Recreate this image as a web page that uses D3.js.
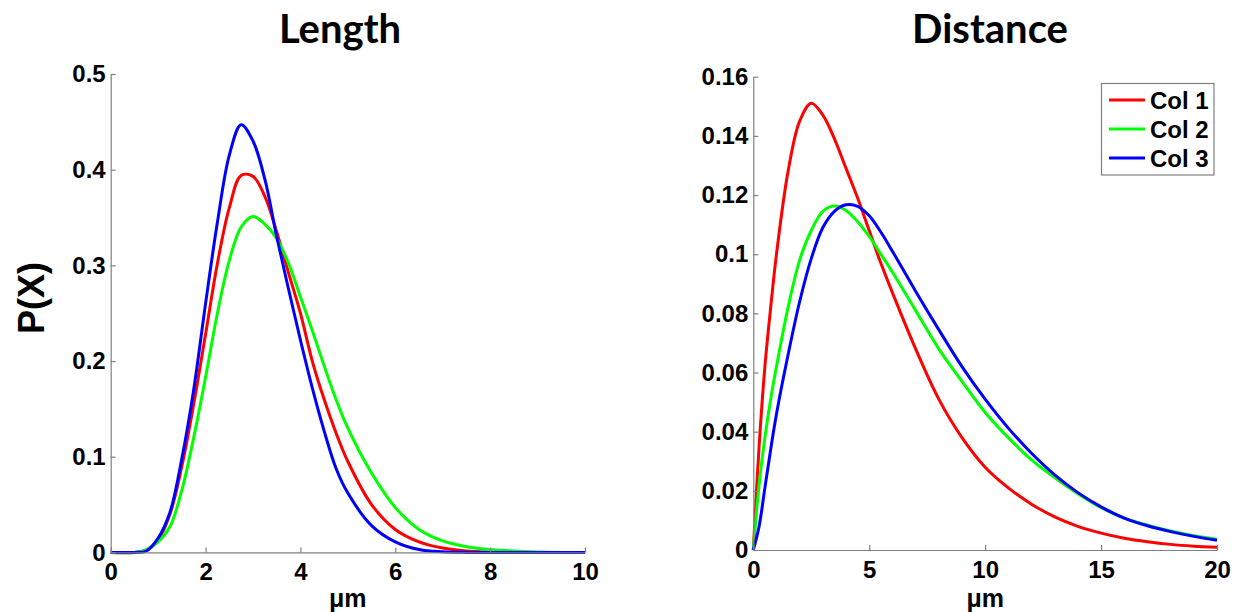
<!DOCTYPE html>
<html>
<head>
<meta charset="utf-8">
<script src="https://cdn.jsdelivr.net/npm/d3@7"></script>
<style>
  body { margin: 0; background: #fff; }
  svg text { font-family: "Liberation Sans", Arial, sans-serif; }
</style>
</head>
<body>
<div id="chart"></div>
<script>
// values
var seriesNames = ["Col 1", "Col 2", "Col 3"];
var seriesColors = ["#ff0000", "#00ff00", "#0000ff"];

// Length panel
var lenX = [0, 0.5, 0.75, 1, 1.25, 1.5, 1.75, 2, 2.25, 2.5, 2.75, 3, 3.25, 3.5, 3.75, 4, 4.25, 4.5, 4.75, 5, 5.5, 6, 6.5, 7, 7.5, 8, 9, 10];
var lenCol1 = [0, 0, 0.002, 0.013, 0.04, 0.09, 0.155, 0.228, 0.302, 0.36, 0.394, 0.393, 0.372, 0.335, 0.292, 0.25, 0.2, 0.16, 0.125, 0.095, 0.05, 0.024, 0.011, 0.0045, 0.0015, 0.0004, 0, 0];
var lenCol2 = [0, 0, 0.003, 0.011, 0.027, 0.065, 0.12, 0.183, 0.25, 0.305, 0.34, 0.351, 0.343, 0.328, 0.302, 0.267, 0.232, 0.195, 0.16, 0.13, 0.083, 0.047, 0.024, 0.012, 0.006, 0.003, 0.0005, 0];
var lenCol3 = [0, 0, 0.0015, 0.015, 0.042, 0.098, 0.17, 0.26, 0.345, 0.415, 0.447, 0.43, 0.39, 0.33, 0.275, 0.222, 0.172, 0.127, 0.088, 0.062, 0.028, 0.011, 0.003, 0.0006, 0, 0, 0, 0];
var lenXTicks = [0, 2, 4, 6, 8, 10];
var lenYTicks = [0, 0.1, 0.2, 0.3, 0.4, 0.5];

// Distance panel
var distX = [0, 0.25, 0.5, 0.75, 1, 1.5, 2, 2.5, 3, 3.5, 4, 4.5, 5, 5.5, 6, 7, 8, 9, 10, 11, 12, 13, 14, 15, 16, 17, 18, 19, 20];
var distCol1 = [0, 0.035, 0.062, 0.082, 0.1, 0.128, 0.145, 0.151, 0.147, 0.139, 0.129, 0.119, 0.108, 0.097, 0.087, 0.068, 0.051, 0.038, 0.028, 0.021, 0.0155, 0.0112, 0.008, 0.0057, 0.004, 0.0028, 0.0019, 0.0013, 0.0009];
var distCol2 = [0, 0.022, 0.038, 0.051, 0.062, 0.082, 0.098, 0.108, 0.1145, 0.1163, 0.1148, 0.111, 0.106, 0.1, 0.094, 0.081, 0.068, 0.057, 0.0465, 0.038, 0.0305, 0.0245, 0.019, 0.0143, 0.0108, 0.0084, 0.0064, 0.0048, 0.0036];
var distCol3 = [0, 0.008, 0.021, 0.034, 0.046, 0.066, 0.084, 0.0985, 0.109, 0.1145, 0.1167, 0.1162, 0.113, 0.1075, 0.101, 0.0875, 0.0745, 0.062, 0.051, 0.0412, 0.0327, 0.0254, 0.0194, 0.0146, 0.0108, 0.0082, 0.0062, 0.0046, 0.0033];
var distXTicks = [0, 5, 10, 15, 20];
var distYTicks = [0, 0.02, 0.04, 0.06, 0.08, 0.1, 0.12, 0.14, 0.16];

var svg = d3.select("#chart").append("svg")
    .attr("width", 1239)
    .attr("height", 612);

var axisGray = "#808080";
var fmt = function (d) { return String(+d.toFixed(2)); };

function drawPanel(p) {
    var x = d3.scaleLinear().domain(p.xDomain).range([p.left, p.right]);
    var y = d3.scaleLinear().domain(p.yDomain).range([p.bottom, p.top]);

    // curves
    var line = d3.line()
        .x(function (d) { return x(d[0]); })
        .y(function (d) { return Math.min(y(d[1]), p.bottom); })
        .curve(d3.curveCatmullRom.alpha(0.5));

    p.series.forEach(function (vals, i) {
        svg.append("path")
            .datum(p.xs.map(function (v, j) { return [v, vals[j]]; }))
            .attr("d", line)
            .attr("fill", "none")
            .attr("stroke", seriesColors[i])
            .attr("stroke-width", 3)
            .attr("stroke-linejoin", "round");
    });

    // axes, inward ticks like matlab
    var xAxis = d3.axisBottom(x).tickValues(p.xTicks).tickFormat(fmt)
        .tickSizeInner(-5).tickSizeOuter(0).tickPadding(11);
    var yAxis = d3.axisLeft(y).tickValues(p.yTicks).tickFormat(fmt)
        .tickSizeInner(-5).tickSizeOuter(0).tickPadding(5);

    var gx = svg.append("g")
        .attr("transform", "translate(0," + p.bottom + ")")
        .call(xAxis);
    var gy = svg.append("g")
        .attr("transform", "translate(" + p.left + ",0)")
        .call(yAxis);

    [gx, gy].forEach(function (g) {
        g.select(".domain").attr("stroke", axisGray).attr("stroke-width", 1.2);
        g.selectAll(".tick line").attr("stroke", axisGray).attr("stroke-width", 1.2);
        g.selectAll(".tick text")
            .attr("fill", "#000")
            .style("font-size", "24px")
            .style("font-weight", "bold")
            .style("font-family", "'Liberation Sans', Arial, sans-serif");
    });

    // title
    svg.append("text")
        .attr("x", p.titleX)
        .attr("y", 43)
        .attr("text-anchor", "middle")
        .style("font-family", "Lato, 'Open Sans', sans-serif")
        .style("font-size", "40px")
        .style("font-weight", "bold")
        .text(p.title);

    // x label
    svg.append("text")
        .attr("x", (p.left + p.right) / 2)
        .attr("y", 607)
        .attr("text-anchor", "middle")
        .style("font-size", "25px")
        .style("font-weight", "bold")
        .text("\u03bcm");

    return { x: x, y: y };
}

drawPanel({
    left: 110.7, right: 585, top: 74, bottom: 552.4,
    xDomain: [0, 10], yDomain: [0, 0.5],
    xs: lenX, series: [lenCol1, lenCol2, lenCol3],
    xTicks: lenXTicks, yTicks: lenYTicks,
    title: "Length", titleX: 340
});

drawPanel({
    left: 753.3, right: 1217, top: 76.7, bottom: 550,
    xDomain: [0, 20], yDomain: [0, 0.16],
    xs: distX, series: [distCol1, distCol2, distCol3],
    xTicks: distXTicks, yTicks: distYTicks,
    title: "Distance", titleX: 990
});

// y label
svg.append("text")
    .attr("transform", "translate(44,298) rotate(-90)")
    .attr("text-anchor", "middle")
    .style("font-size", "36px")
    .style("font-weight", "bold")
    .text("P(X)");

// legend
var legend = svg.append("g");
legend.append("rect")
    .attr("x", 1101.5).attr("y", 83.5)
    .attr("width", 112.5).attr("height", 91.5)
    .attr("fill", "#fff")
    .attr("stroke", axisGray)
    .attr("stroke-width", 1.2);

seriesNames.forEach(function (name, i) {
    var ly = 100 + i * 29;
    legend.append("line")
        .attr("x1", 1109).attr("x2", 1145)
        .attr("y1", ly).attr("y2", ly)
        .attr("stroke", seriesColors[i])
        .attr("stroke-width", 3);
    legend.append("text")
        .attr("x", 1150)
        .attr("y", ly + 8.5)
        .style("font-size", "24px")
        .style("font-weight", "bold")
        .text(name);
});
</script>
</body>
</html>
